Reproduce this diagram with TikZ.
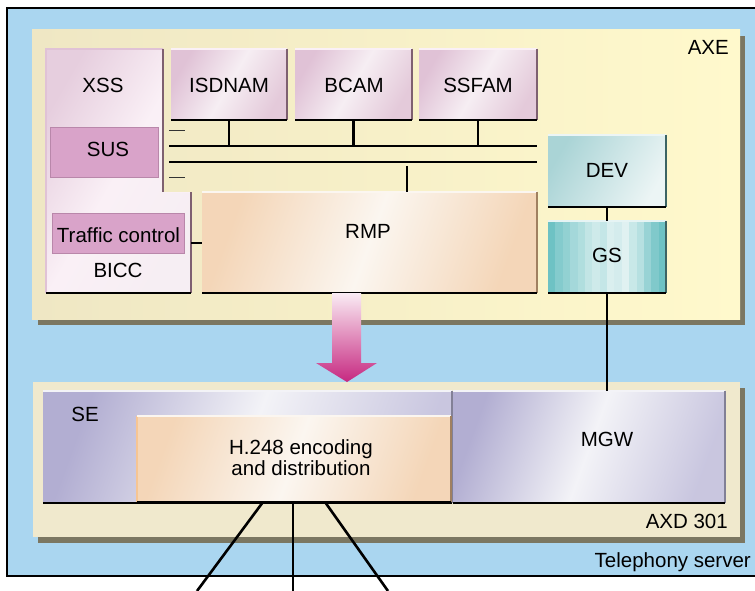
\documentclass[tikz,border=0pt]{standalone}
\usepackage{fontspec}
\setmainfont{Liberation Sans}
\usetikzlibrary{fit}
\definecolor{skyb}{RGB}{170,214,240}
\definecolor{axeL}{RGB}{239,231,196}
\definecolor{axeR}{RGB}{255,249,204}
\definecolor{shad}{RGB}{123,119,98}
\definecolor{axdc}{RGB}{240,233,205}
\definecolor{pkL}{RGB}{224,194,214}
\definecolor{pkM}{RGB}{246,238,243}
\definecolor{pkR}{RGB}{228,202,218}
\definecolor{pkE}{RGB}{126,96,112}
\definecolor{pkT}{RGB}{250,240,246}
\definecolor{susc}{RGB}{217,163,201}
\definecolor{susE}{RGB}{185,135,170}
\definecolor{rmpA}{RGB}{244,214,184}
\definecolor{rmpM}{RGB}{251,246,240}
\definecolor{rmpE}{RGB}{160,128,96}
\definecolor{devA}{RGB}{170,212,214}
\definecolor{devB}{RGB}{236,245,245}
\definecolor{gsA}{RGB}{110,194,196}
\definecolor{gsB}{RGB}{230,244,244}
\definecolor{tlE}{RGB}{60,100,100}
\definecolor{seA}{RGB}{178,174,210}
\definecolor{seB}{RGB}{243,243,247}
\definecolor{seE}{RGB}{130,128,150}
\definecolor{arT}{RGB}{250,236,244}
\definecolor{arB}{RGB}{198,40,128}
\newcommand\boxedges[3]{%
  \draw[line width=1.2pt,#3] (#1.north west) -- (#1.north east);
  \draw[line width=2pt,#2] (#1.north east) -- (#1.south east);
  \draw[line width=2.6pt,black] (#1.south west) -- (#1.south east);
}
\begin{document}
\begin{tikzpicture}[x=1pt,y=-1pt,
  lbl/.style={font=\fontsize{20.5}{22}\selectfont, inner sep=0pt, anchor=base},
  bx/.style={inner sep=0pt, outer sep=0pt},
  pinkbox/.style={bx, left color=pkL, right color=pkR, middle color=pkM, shading angle=60},
  susbox/.style={bx, fill=susc, draw=susE, line width=1pt},
  rmpbox/.style={bx, left color=rmpA, right color=rmpA, middle color=rmpM, shading angle=70},
  devbox/.style={bx, left color=devA, right color=devB, shading angle=60},
  gsbox/.style={bx, fill=gsA},
  sebox/.style={bx, left color=seA, right color=seA!70!white, middle color=seB, shading angle=70},
  conn/.style={line width=2.6pt, black},
  tick/.style={line width=1pt, black!80},
]
\useasboundingbox (0,0) rectangle (755,591);
% telephony server
\fill[skyb] (7,8) rectangle (755,576);
\draw[line width=1.6pt] (755,8) -- (7,8) -- (7,576) -- (755,576);
\node[lbl, anchor=base east] (tsl) at (751,567) {Telephony server};
% AXE
\fill[shad] (38,36) rectangle (745,325);
\node (axe) [bx, fit={(32,30) (740,319)}, left color=axeL, right color=axeR] {};
\node[lbl, anchor=base east] (axel) at (729,55) {AXE};
% XSS / BICC L-shape
\coordinate (xa) at (46,49);
\coordinate (xb) at (163,49);
\coordinate (xc) at (163,192);
\coordinate (xd) at (191,192);
\coordinate (xe) at (191,293);
\coordinate (xf) at (46,293);
\shade[left color=pkL!80!white, right color=pkM, middle color=pkT, shading angle=60]
  (xa) -- (xb) -- (xc) -- (xd) -- (xe) -- (xf) -- cycle;
\draw[line width=1.5pt, pkL] (xf) -- (xa) -- (xb);
\draw[line width=1pt, pkT] (xc) -- (xd);
\draw[line width=2pt, pkE] (xb) -- (xc) (xd) -- (xe);
\draw[line width=2.6pt] (xf) -- (xe);
\node[lbl] (xssl) at (103,93) {XSS};
\node (sus) [susbox, fit={(50,128) (158,177)}] {};
\node[lbl] (susl) at (108,157) {SUS};
\node (tc) [susbox, fit={(52,213) (184,253)}] {};
\node[lbl] (tcl) at (118.5,242) {Traffic control};
\node[lbl] (biccl) at (118,277) {BICC};
% top row
\node (isdnam) [pinkbox, fit={(171,49) (287,120)}] {};
\boxedges{isdnam}{pkE}{pkT}
\node[lbl] (isdnaml) at (229,93) {ISDNAM};
\node (bcam) [pinkbox, fit={(295,49) (412,120)}] {};
\boxedges{bcam}{pkE}{pkT}
\node[lbl] (bcaml) at (354,93) {BCAM};
\node (ssfam) [pinkbox, fit={(419,49) (537,120)}] {};
\boxedges{ssfam}{pkE}{pkT}
\node[lbl] (ssfaml) at (478,93) {SSFAM};
% bus
\coordinate (b1w) at (169,146);
\coordinate (b1e) at (537,146);
\coordinate (b2w) at (169,162);
\coordinate (b2e) at (537,162);
\draw[conn] (b1w) -- (b1e);
\draw[conn] (b2w) -- (b2e);
\coordinate (t1w) at (169,131);
\coordinate (t1e) at (185,131);
\coordinate (t2w) at (169,177);
\coordinate (t2e) at (185,177);
\draw[tick] (t1w) -- (t1e);
\draw[tick] (t2w) -- (t2e);
\draw[conn] (isdnam.south) -- (isdnam.south |- b1w);
\draw[conn] (bcam.south) -- (bcam.south |- b1w);
\draw[conn] (ssfam.south) -- (ssfam.south |- b1w);
% RMP
\node (rmp) [rmpbox, fit={(202,192) (537,293)}] {};
\boxedges{rmp}{rmpE}{rmpM}
\node[lbl] (rmpl) at (368,238) {RMP};
\coordinate (tap) at (407,166);
\draw[conn] (tap) -- (tap |- rmp.north);
\coordinate (bicce) at (191,243);
\draw[conn] (bicce) -- (bicce -| rmp.west);
% DEV, GS
\node (dev) [devbox, fit={(548,135) (666,207)}] {};
\boxedges{dev}{tlE}{devB}
\node[lbl] (devl) at (607,177) {DEV};
\node (gs) [gsbox, fit={(548,221) (666,293)}] {};
\foreach \i/\p in {0/0,1/18,2/30,3/45,4/55,5/70,6/80,7/72,8/90,9/85,10/95,11/75,12/60,13/35,14/15,15/0} {
  \fill[gsB!\p!gsA] ({548+\i*7.375},221) rectangle ({548+(\i+1)*7.375},293);
}
\boxedges{gs}{tlE}{gsB}
\node[lbl] (gsl) at (607,262) {GS};
\draw[conn] (dev.south) -- (gs.north);
% AXD 301
\fill[shad] (38,388) rectangle (745,543);
\node (axd) [bx, fit={(33,382) (740,537)}, fill=axdc] {};
\node[lbl, anchor=base east] (axdl) at (728,528) {AXD 301};
\node (se) [sebox, fit={(43,391) (452,503)}] {};
\boxedges{se}{seE}{seB}
\node[lbl] (sel) at (85,421) {SE};
\node (h248) [rmpbox, fit={(137,416) (451,502)}] {};
\draw[line width=1.2pt, rmpA!80!orange] (h248.south west) -- (h248.north west);
\boxedges{h248}{rmpE}{rmpM}
\node[lbl, align=center, font=\fontsize{20.5}{19}\selectfont] (h248l) at (301,475) {H.248 encoding\\and distribution};
\node (mgw) [sebox, fit={(453,391) (725,503)}] {};
\boxedges{mgw}{seE}{seB}
\node[lbl] (mgwl) at (607,446) {MGW};
\draw[conn] (gs.south) -- (gs.south |- mgw.north);
% arrow
\coordinate (a1) at (332,293);
\coordinate (a2) at (361,293);
\coordinate (a3) at (361,363);
\coordinate (a4) at (377,363);
\coordinate (a5) at (347,382);
\coordinate (a6) at (316,363);
\coordinate (a7) at (332,363);
\shade[top color=arT, bottom color=arB] (a1) -- (a2) -- (a3) -- (a4) -- (a5) -- (a6) -- (a7) -- cycle;
% outgoing lines
\coordinate (s1) at (263,0);
\coordinate (s2) at (293,0);
\coordinate (s3) at (325,0);
\coordinate (e1) at (197,591);
\coordinate (e2) at (293,591);
\coordinate (e3) at (388,591);
\draw[conn] (s1 |- h248.south) -- (e1);
\draw[conn] (s2 |- h248.south) -- (e2);
\draw[conn] (s3 |- h248.south) -- (e3);
\end{tikzpicture}
\end{document}
